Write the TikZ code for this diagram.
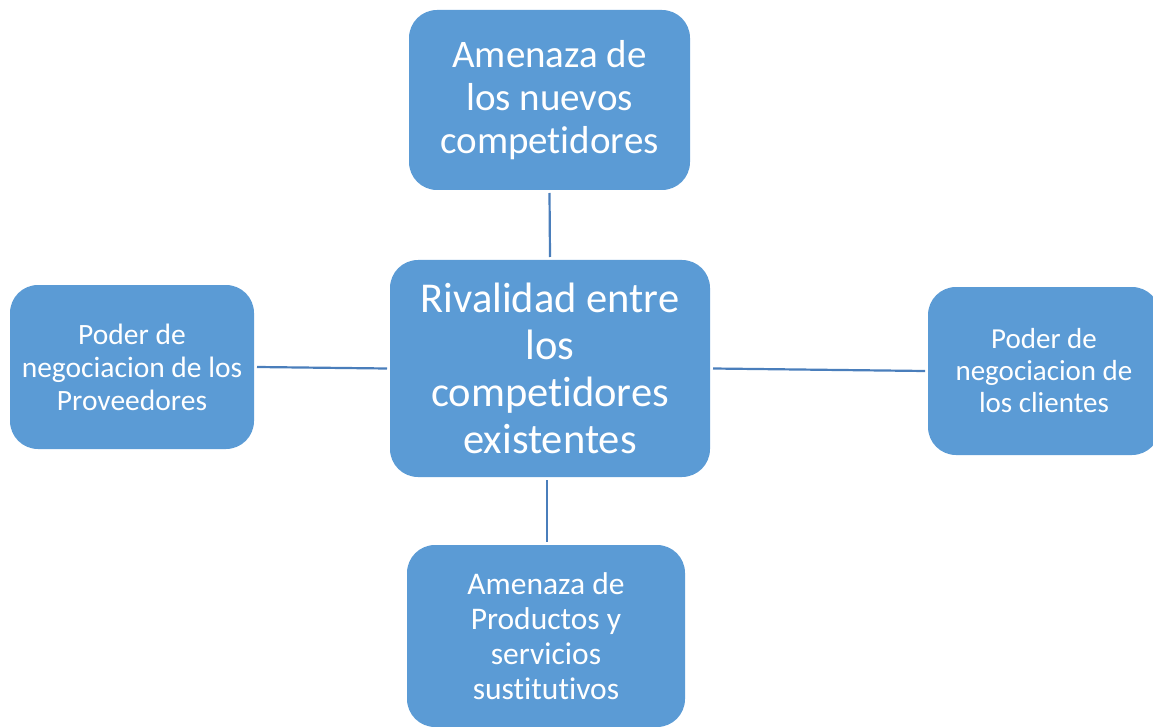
\documentclass[tikz,border=0pt]{standalone}
\usepackage{fontspec}
\setmainfont[Ligatures={NoCommon}]{Carlito}
\definecolor{boxblue}{HTML}{5B9BD5}
\definecolor{linkblue}{HTML}{4A7EBB}
\begin{document}
\begin{tikzpicture}[x=1pt,y=-1pt,
  box/.style={fill=boxblue,draw=none,rounded corners=28pt,text=white,align=center,inner sep=0pt,outer sep=3pt},
  link/.style={draw=linkblue,line width=2.2pt}]
\useasboundingbox (0,0) rectangle (1153,727);
\clip (0,0) rectangle (1153,727);
\node[box,minimum width=281pt,minimum height=180pt,font=\fontsize{39}{43}\selectfont] (top) at (549.5,100) {Amenaza de\\los nuevos\\competidores};
\node[box,minimum width=320pt,minimum height=217pt,font=\fontsize{42.5}{47}\selectfont] (mid) at (550,368.5) {Rivalidad entre\\los\\competidores\\existentes};
\node[box,minimum width=244pt,minimum height=164pt,font=\fontsize{29.5}{33}\selectfont] (left) at (132,367) {Poder de\\negociacion de los\\Proveedores};
\node[box,minimum width=232pt,minimum height=168pt,font=\fontsize{29}{32}\selectfont] (right) at (1044,371) {Poder de\\negociacion de\\los clientes};
\node[box,minimum width=278pt,minimum height=182pt,font=\fontsize{31.5}{35}\selectfont] (bot) at (546,636) {Amenaza de\\Productos y\\servicios\\sustitutivos};
\draw[link] (top.south) -- (mid.north);
\draw[link] (left.east) -- (mid.west);
\draw[link] (mid.east) -- (right.west);
\draw[link] ([xshift=-3pt]mid.south) -- ([xshift=1pt]bot.north);
\end{tikzpicture}
\end{document}
